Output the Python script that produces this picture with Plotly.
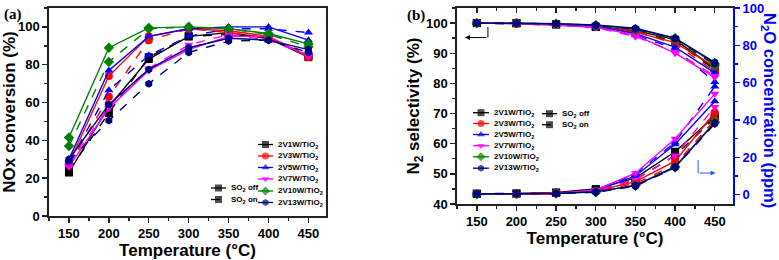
import plotly.graph_objects as go

# ---------------- data ----------------
temps = [150, 200, 250, 300, 350, 400, 450]
catalysts = ["2V1W/TiO<sub>2</sub>", "2V3W/TiO<sub>2</sub>", "2V5W/TiO<sub>2</sub>",
             "2V7W/TiO<sub>2</sub>", "2V10W/TiO<sub>2</sub>", "2V13W/TiO<sub>2</sub>"]
colors = ["#000000", "#FF0000", "#0000FF", "#FF00FF", "#008000", "#000080"]
symbols = ["square", "circle", "triangle-up", "triangle-down", "diamond", "hexagon"]
x_ticks = [150, 200, 250, 300, 350, 400, 450]

# (a) NOx conversion (%), SO2 off (solid) / SO2 on (dashed)
nox_1w_off = [23, 58, 83, 95, 97, 94, 84]
nox_1w_on = [24, 54.5, 84, 95, 96, 94, 85]
nox_3w_off = [28, 74, 95, 99, 98, 95, 84]
nox_3w_on = [27, 63, 93, 99, 97, 94, 85]
nox_5w_off = [30, 77, 95, 99, 100, 100, 93]
nox_5w_on = [28, 66.5, 85, 95, 99, 99, 97]
nox_7w_off = [26, 57, 77, 88, 95, 95, 84.5]
nox_7w_on = [27, 58, 78, 90.5, 96, 93, 85]
nox_10w_off = [41.5, 89, 99.5, 100, 99, 96.5, 91]
nox_10w_on = [37, 81.5, 99, 100, 99, 96, 89.5]
nox_13w_off = [30, 59, 77.5, 89, 94, 93, 88]
nox_13w_on = [29, 50.5, 70, 86.5, 92.5, 93, 86.5]

# (b) N2 selectivity (%)
sel_1w_off = [100, 100, 99.6, 98.8, 97.5, 94.5, 85]
sel_1w_on = [100, 99.9, 99.5, 98.7, 97, 94, 84.5]
sel_3w_off = [100, 99.9, 99.6, 99, 97, 93.5, 85.5]
sel_3w_on = [100, 100, 99.5, 98.8, 97.5, 93, 84]
sel_5w_off = [100, 99.9, 99.5, 99, 96.5, 92, 83.5]
sel_5w_on = [100, 99.8, 99.4, 98.5, 96, 91.5, 80.5]
sel_7w_off = [100, 99.8, 99.3, 98.6, 96, 90, 82]
sel_7w_on = [100, 99.8, 99.3, 98.5, 95.5, 90.5, 82.5]
sel_10w_off = [100, 100, 99.8, 99.3, 98, 95, 86.5]
sel_10w_on = [100, 100, 99.7, 99.2, 97.8, 94.5, 86]
sel_13w_off = [100, 100, 99.8, 99.4, 98.3, 95, 87]
sel_13w_on = [100, 100, 99.7, 99.2, 98, 94.8, 86.5]

# (b) N2O concentration (ppm)
n2o_1w_off = [0.5, 0.6, 1.2, 3, 9, 23, 42]
n2o_1w_on = [0.5, 0.6, 1.0, 2.5, 8, 21, 41]
n2o_3w_off = [0.3, 0.4, 1.0, 2, 7, 18, 44]
n2o_3w_on = [0.3, 0.4, 0.8, 1.8, 6, 16, 40]
n2o_5w_off = [0.2, 0.3, 0.6, 2.2, 10, 27, 50]
n2o_5w_on = [0.2, 0.3, 0.6, 2.5, 11, 28, 58]
n2o_7w_off = [0.1, 0.2, 0.5, 2.5, 11.5, 30, 54]
n2o_7w_on = [0.1, 0.2, 0.5, 2.2, 8, 21, 47]
n2o_10w_off = [0.3, 0.4, 0.7, 1.5, 5, 14.5, 39]
n2o_10w_on = [0.3, 0.4, 0.7, 1.3, 4.8, 15, 38.5]
n2o_13w_off = [0.4, 0.5, 0.6, 1.5, 5, 15, 38.5]
n2o_13w_on = [0.4, 0.5, 0.6, 1.3, 4.5, 14.5, 38]

nox_off = [nox_1w_off, nox_3w_off, nox_5w_off, nox_7w_off, nox_10w_off, nox_13w_off]
nox_on = [nox_1w_on, nox_3w_on, nox_5w_on, nox_7w_on, nox_10w_on, nox_13w_on]
sel_off = [sel_1w_off, sel_3w_off, sel_5w_off, sel_7w_off, sel_10w_off, sel_13w_off]
sel_on = [sel_1w_on, sel_3w_on, sel_5w_on, sel_7w_on, sel_10w_on, sel_13w_on]
n2o_off = [n2o_1w_off, n2o_3w_off, n2o_5w_off, n2o_7w_off, n2o_10w_off, n2o_13w_off]
n2o_on = [n2o_1w_on, n2o_3w_on, n2o_5w_on, n2o_7w_on, n2o_10w_on, n2o_13w_on]

FONT = "Liberation Sans, Arial, sans-serif"
fig = go.Figure()


def add(xs, ys, c, s, dash, xa, ya):
    fig.add_trace(go.Scatter(
        x=xs, y=ys, mode="lines+markers", xaxis=xa, yaxis=ya, showlegend=False,
        line=dict(color=c, width=1.4, dash=dash),
        marker=dict(symbol=s, size=8, color=c, line=dict(width=0)),
        hoverinfo="skip"))


for i in range(6):
    add(temps, nox_on[i], colors[i], symbols[i], "dash", "x", "y")
    add(temps, nox_off[i], colors[i], symbols[i], "solid", "x", "y")
for i in range(6):
    add(temps, sel_on[i], colors[i], symbols[i], "dash", "x2", "y2")
    add(temps, sel_off[i], colors[i], symbols[i], "solid", "x2", "y2")
    add(temps, n2o_on[i], colors[i], symbols[i], "dash", "x2", "y3")
    add(temps, n2o_off[i], colors[i], symbols[i], "solid", "x2", "y3")

# dummy trace so the inside-top tick axis of panel (b) is drawn
fig.add_trace(go.Scatter(x=[None], y=[None], xaxis="x3", yaxis="y2", showlegend=False))

# ---------------- manual legends (pixel space overlay) ----------------
W, H = 779, 260
legend_annots = []


def legend_entry(x0, x1, y, c, s, dash, label):
    fig.add_trace(go.Scatter(
        x=[x0, (x0 + x1) / 2, x1], y=[y, y, y], mode="lines+markers",
        xaxis="x4", yaxis="y4", showlegend=False, hoverinfo="skip",
        line=dict(color=c, width=1.3, dash=dash),
        marker=dict(symbol=s, size=[0, 7, 0], color=c, line=dict(width=0))))
    legend_annots.append(dict(
        x=x1 + 3, y=y, xref="x4", yref="y4", text=label, showarrow=False,
        xanchor="left", yanchor="middle",
        font=dict(family=FONT, size=8, color="black", weight="bold")))


rows_a = [144.5, 156, 167.5, 179, 191, 202.5]
rows_b = [112.7, 123.5, 134.5, 145.7, 156.8, 168.2]
for i in range(6):
    legend_entry(258, 273, rows_a[i], colors[i], symbols[i], "solid", catalysts[i])
    legend_entry(473, 489, rows_b[i], colors[i], symbols[i], "solid", catalysts[i])
legend_entry(211, 226, 188, "black", "square", "solid", "SO<sub>2</sub> off")
legend_entry(211, 226, 199.5, "black", "square", "dash", "SO<sub>2</sub> on")
legend_entry(542, 557, 113.7, "black", "square", "solid", "SO<sub>2</sub> off")
legend_entry(542, 557, 124.7, "black", "square", "dash", "SO<sub>2</sub> on")

axis_common = dict(showgrid=False, zeroline=False, showline=True, linecolor="#222",
                   linewidth=1.6, ticks="outside", ticklen=5, tickwidth=1.4, tickcolor="#222",
                   tickfont=dict(family=FONT, size=13, color="black", weight="bold"),
                   automargin=False)
title_font = dict(family=FONT, size=17, color="black", weight="bold")

fig.update_layout(
    width=W, height=H, margin=dict(l=0, r=0, t=0, b=0),
    paper_bgcolor="white", plot_bgcolor="rgba(0,0,0,0)",
    font=dict(family=FONT, weight="bold"),
    showlegend=False,
    xaxis=dict(axis_common, domain=[49 / W, 326 / W], range=[125, 472], anchor="y",
               tickvals=x_ticks, mirror=True,
               minor=dict(dtick=25, tick0=150, ticks="outside", ticklen=3, tickcolor="#222"),
               title=dict(text="Temperature (°C)", font=title_font, standoff=2)),
    yaxis=dict(axis_common, domain=[44 / H, 252 / H], range=[0, 110], anchor="x",
               tickvals=[0, 20, 40, 60, 80, 100], mirror=True,
               minor=dict(dtick=10, ticks="outside", ticklen=3, tickcolor="#222"),
               title=dict(text="NOx conversion (%)", font=title_font, standoff=4)),
    xaxis2=dict(axis_common, domain=[457 / W, 733 / W], range=[125, 473], anchor="y2",
                tickvals=x_ticks, mirror=True,
                minor=dict(dtick=25, tick0=150, ticks="outside", ticklen=3, tickcolor="#222"),
                title=dict(text="Temperature (°C)", font=title_font, standoff=2)),
    xaxis3=dict(overlaying="x2", anchor="y2", side="top", range=[125, 473],
                showgrid=False, zeroline=False, showline=False, showticklabels=False,
                ticks="inside", ticklen=5, tickwidth=1.4, tickcolor="#222", tickvals=x_ticks,
                minor=dict(dtick=25, tick0=150, ticks="inside", ticklen=3, tickcolor="#222")),
    yaxis2=dict(axis_common, domain=[56 / H, 252 / H], range=[40, 105], anchor="x2",
                tickvals=[40, 50, 60, 70, 80, 90, 100],
                minor=dict(dtick=5, ticks="outside", ticklen=3, tickcolor="#222"),
                title=dict(text="N<sub>2</sub> selectivity (%)", font=title_font, standoff=2)),
    yaxis3=dict(overlaying="y2", anchor="x2", side="right", range=[-5, 100],
                showgrid=False, zeroline=False, showline=True, linecolor="#0000FF",
                linewidth=2, ticks="outside", ticklen=5, tickwidth=1.4, tickcolor="#0000FF",
                tickvals=[0, 20, 40, 60, 80, 100],
                minor=dict(dtick=10, ticks="outside", ticklen=3, tickcolor="#0000FF"),
                tickfont=dict(family=FONT, size=13, color="#0000FF", weight="bold"),
                automargin=False),
    xaxis4=dict(domain=[0, 1], range=[0, W], visible=False, anchor="y4", fixedrange=True),
    yaxis4=dict(domain=[0, 1], range=[H, 0], visible=False, anchor="x4", fixedrange=True),
)

annots = [
    dict(x=2 / W, y=1 - 14 / H, xref="paper", yref="paper", text="(a)", showarrow=False,
         xanchor="left", yanchor="middle",
         font=dict(family="Liberation Serif, Times New Roman, serif", size=15,
                   color="black", weight="bold")),
    dict(x=405 / W, y=1 - 15 / H, xref="paper", yref="paper", text="(b)", showarrow=False,
         xanchor="left", yanchor="middle",
         font=dict(family="Liberation Serif, Times New Roman, serif", size=15,
                   color="black", weight="bold")),
    dict(x=769 / W, y=1 - 110 / H, xref="paper", yref="paper",
         text="N<sub>2</sub>O concentration (ppm)", showarrow=False, textangle=90,
         xanchor="center", yanchor="middle",
         font=dict(family=FONT, size=16.5, color="#0000FF", weight="bold")),
    # arrow pointing to left axis
    dict(x=135, y=95.2, ax=164, ay=95.2, xref="x2", yref="y2", axref="x2", ayref="y2",
         text="", showarrow=True, arrowhead=2, arrowsize=1, arrowwidth=1, arrowcolor="black"),
    # arrow pointing to right axis
    dict(x=451, y=11.6, ax=429, ay=11.6, xref="x2", yref="y3", axref="x2", ayref="y3",
         text="", showarrow=True, arrowhead=2, arrowsize=1, arrowwidth=1, arrowcolor="#3355FF"),
]
fig.update_layout(annotations=annots + legend_annots)
fig.add_shape(type="line", x0=164, x1=164, y0=98.7, y1=95.2, xref="x2", yref="y2",
              line=dict(color="black", width=1))
fig.add_shape(type="line", x0=429, x1=429, y0=18.6, y1=11.6, xref="x2", yref="y3",
              line=dict(color="#3355FF", width=1))

fig.write_html("out.html",
               config={"displayModeBar": False, "staticPlot": True},
               post_script="document.body.style.margin='0';document.body.style.padding='0';")
